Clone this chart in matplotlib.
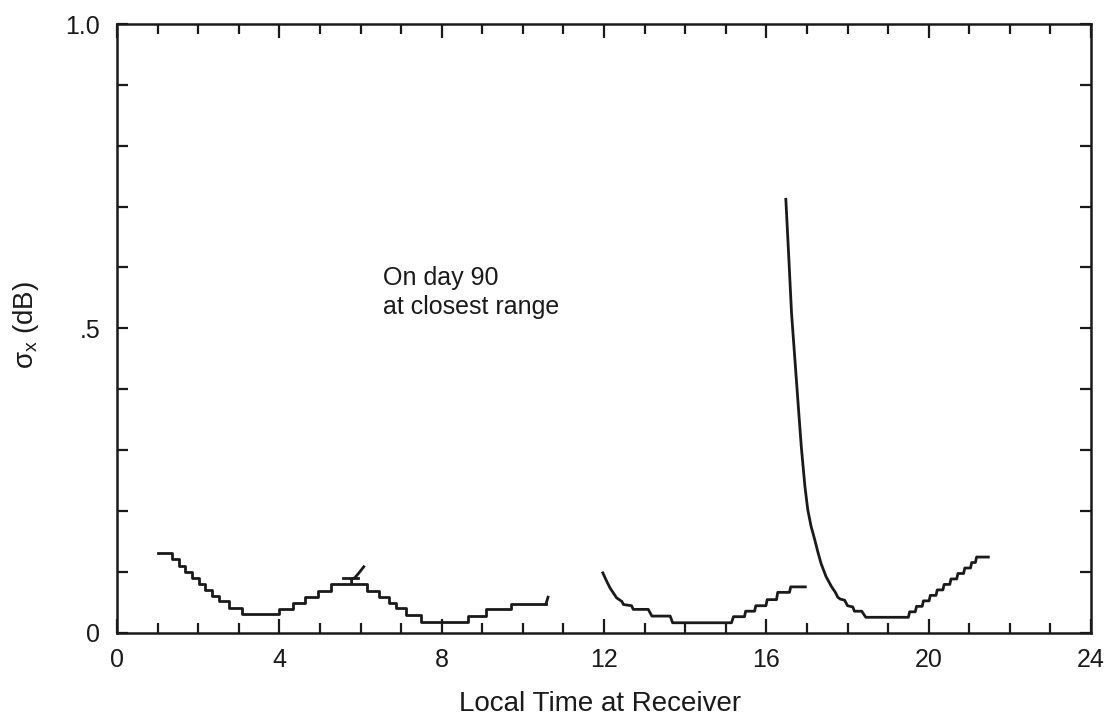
import numpy as np
import matplotlib
matplotlib.use("Agg")
import matplotlib.pyplot as plt
from matplotlib.ticker import MultipleLocator, FixedLocator

plt.rcParams['font.family'] = ['Liberation Sans', 'DejaVu Sans']
plt.rcParams['mathtext.fontset'] = 'custom'
plt.rcParams['mathtext.rm'] = 'Liberation Sans'
plt.rcParams['mathtext.it'] = 'Liberation Sans'

# ---- data ----
# segment 1: stair-step record (step start times, levels)
seg1_t = [1.02, 1.35, 1.52, 1.68, 1.85, 2.02, 2.18, 2.35, 2.52, 2.75, 3.08, 4.00,
          4.33, 4.62, 4.95, 5.28, 6.15, 6.45, 6.70, 6.88, 7.12, 7.48, 8.65, 9.08,
          9.72, 10.57]
seg1_v = [0.131, 0.121, 0.110, 0.100, 0.090, 0.080, 0.070, 0.060, 0.051, 0.041,
          0.030, 0.039, 0.049, 0.058, 0.069, 0.080, 0.068, 0.058, 0.049, 0.040,
          0.028, 0.018, 0.027, 0.038, 0.047, 0.047]
seg1_tail_t = [10.57, 10.62]
seg1_tail_v = [0.047, 0.058]

# overlapping fragment near 6 h
frag_flat_t = [5.57, 5.94]
frag_flat_v = [0.089, 0.089]
frag_rise_t = [5.78, 5.78, 5.86, 5.95, 6.08]
frag_rise_v = [0.080, 0.088, 0.090, 0.097, 0.108]

# segment 2
seg2_t = [11.97, 12.06, 12.15, 12.23, 12.31, 12.44, 12.48, 12.68, 12.72, 13.09,
          13.18, 13.63, 13.69, 15.14, 15.19, 15.46, 15.49, 15.71, 15.74, 15.99,
          16.02, 16.25, 16.28, 16.57, 16.60, 16.96]
seg2_v = [0.098, 0.085, 0.073, 0.065, 0.057, 0.051, 0.046, 0.044, 0.038, 0.038,
          0.027, 0.027, 0.016, 0.016, 0.026, 0.026, 0.035, 0.035, 0.044, 0.044,
          0.054, 0.054, 0.066, 0.066, 0.075, 0.075]

# segment 3: spike then stair-step rise
seg3_t = [16.48, 16.55, 16.62, 16.68, 16.74, 16.80, 16.86, 16.95, 17.02, 17.10,
          17.19, 17.27, 17.35, 17.47, 17.60, 17.70, 17.76, 17.82, 17.93, 18.00,
          18.13, 18.17, 18.35, 18.45, 19.50, 19.53, 19.67, 19.70, 19.84, 19.87,
          20.01, 20.04, 20.18, 20.21, 20.35, 20.38, 20.52, 20.55, 20.69, 20.72,
          20.86, 20.89, 21.03, 21.06, 21.15, 21.18, 21.47]
seg3_v = [0.712, 0.620, 0.525, 0.470, 0.415, 0.360, 0.306, 0.240, 0.202, 0.175,
          0.153, 0.132, 0.113, 0.092, 0.076, 0.066, 0.058, 0.055, 0.053, 0.044,
          0.042, 0.035, 0.035, 0.025, 0.025, 0.034, 0.034, 0.043, 0.043, 0.052,
          0.052, 0.061, 0.061, 0.070, 0.070, 0.079, 0.079, 0.088, 0.088, 0.097,
          0.097, 0.106, 0.106, 0.115, 0.115, 0.124, 0.124]

x_ticks = [0, 4, 8, 12, 16, 20, 24]
y_ticks = [0, 0.5, 1.0]
y_ticklabels = ['0', '.5', '1.0']

# ---- figure ----
fig = plt.figure(figsize=(11.09, 7.19), dpi=100)
ax = fig.add_axes([0.1055, 0.1203, 0.8783, 0.8463])

lc = '#1a1a1a'
lw = 2.0
ax.step(seg1_t, seg1_v, where='post', color=lc, lw=lw)
ax.plot(seg1_tail_t, seg1_tail_v, color=lc, lw=lw)
ax.plot(frag_flat_t, frag_flat_v, color=lc, lw=lw)
ax.plot(frag_rise_t, frag_rise_v, color=lc, lw=lw)
ax.plot(seg2_t, seg2_v, color=lc, lw=lw)
ax.plot(seg3_t, seg3_v, color=lc, lw=lw)

ax.set_xlim(0, 24)
ax.set_ylim(0, 1.0)
ax.xaxis.set_major_locator(FixedLocator(x_ticks))
ax.xaxis.set_minor_locator(MultipleLocator(1))
ax.yaxis.set_major_locator(FixedLocator(y_ticks))
ax.yaxis.set_minor_locator(MultipleLocator(0.1))
ax.set_yticklabels(y_ticklabels)

ax.tick_params(which='both', direction='in', top=True, right=True,
               width=1.6, color=lc, labelsize=18, labelcolor=lc)
ax.tick_params(axis='x', which='major', length=10, pad=11)
ax.tick_params(axis='x', which='minor', length=7)
ax.tick_params(axis='y', which='major', length=8, pad=12)
ax.tick_params(axis='y', which='minor', length=8)
for s in ax.spines.values():
    s.set_linewidth(1.8)
    s.set_color(lc)

ax.set_xlabel('Local Time at Receiver', fontsize=20, color=lc)
ax.xaxis.set_label_coords(0.496, -0.096)
ax.set_ylabel(r'$\sigma_{\mathrm{x}}$ (dB)', fontsize=20, color=lc)
ax.yaxis.set_label_coords(-0.078, 0.505)

ax.text(6.55, 0.603, 'On day 90\nat closest range', fontsize=18, color=lc,
        ha='left', va='top', linespacing=1.3)

fig.savefig('out.png', dpi=100)
